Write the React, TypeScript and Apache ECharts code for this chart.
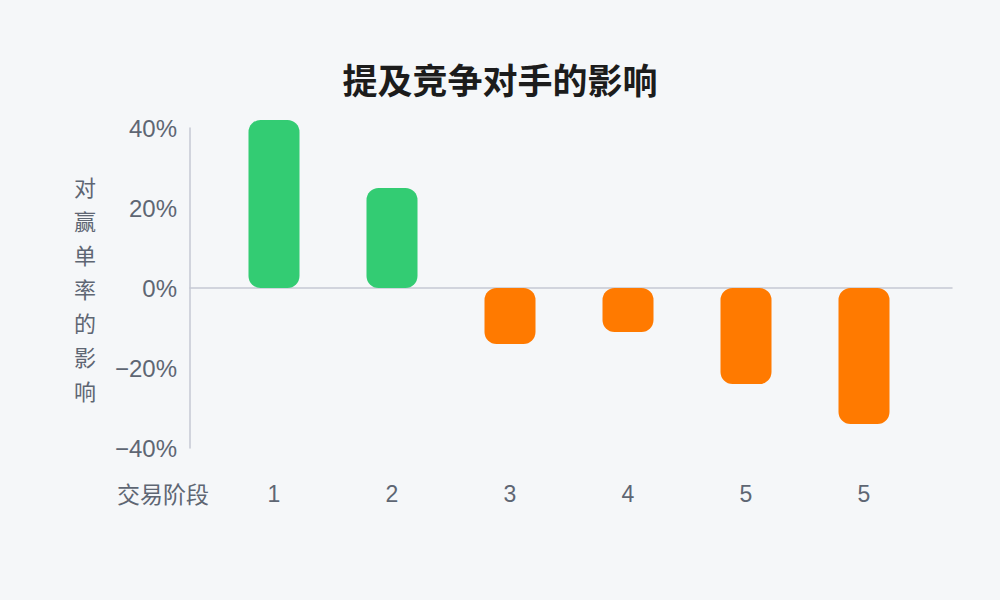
import { useEffect, useRef } from 'react';
import * as echarts from 'echarts';

const stages = ['1', '2', '3', '4', '5', '5'];
const impact = [42, 25, -14, -11, -24, -34];
const yTicks = { min: -40, max: 40, step: 20 };

const labelFont = "'Liberation Sans', 'Noto Sans CJK SC', sans-serif";
const cjkFont = "'Noto Sans CJK SC', sans-serif";
const grey = '#5E6673';

export default function App() {
    const chartRef = useRef<HTMLDivElement>(null);

    useEffect(() => {
        if (!chartRef.current) return;
        const chart = echarts.init(chartRef.current, null, { renderer: 'svg' });

        const option = {
            animation: false,
            backgroundColor: '#F5F7F9',
            title: [
                {
                    text: '提及竞争对手的影响',
                    left: 'center',
                    top: 61,
                    padding: 0,
                    textStyle: { fontFamily: cjkFont, fontSize: 35, fontWeight: 'bold', color: '#1C1C1C' },
                },
                {
                    text: '交易阶段',
                    left: 117,
                    top: 481,
                    padding: 0,
                    textStyle: { fontFamily: cjkFont, fontSize: 23, fontWeight: 'normal', color: grey },
                },
            ],
            grid: [
                { left: 215, right: 77, top: 128, bottom: 152 },
                { left: 190, right: 48, top: 128, bottom: 152 },
            ],
            xAxis: [
                {
                    type: 'category',
                    gridIndex: 0,
                    data: stages,
                    axisLine: { show: false, onZero: false },
                    axisTick: { show: false },
                    axisLabel: { margin: 34, fontSize: 23, color: grey, fontFamily: labelFont },
                },
                {
                    type: 'value',
                    gridIndex: 1,
                    min: 0,
                    max: 1,
                    axisLine: { show: true, onZero: true, lineStyle: { color: '#C5C9D3', width: 1.5 } },
                    axisTick: { show: false },
                    axisLabel: { show: false },
                    splitLine: { show: false },
                },
            ],
            yAxis: [
                {
                    type: 'value',
                    gridIndex: 0,
                    min: yTicks.min,
                    max: yTicks.max,
                    interval: yTicks.step,
                    show: false,
                },
                {
                    type: 'value',
                    gridIndex: 1,
                    min: yTicks.min,
                    max: yTicks.max,
                    interval: yTicks.step,
                    name: '对\n赢\n单\n率\n的\n影\n响',
                    nameLocation: 'middle',
                    nameRotate: 0,
                    nameGap: 94,
                    nameTextStyle: {
                        fontFamily: cjkFont,
                        fontSize: 22,
                        lineHeight: 34,
                        color: grey,
                        padding: [0, 0, 16, 0],
                    },
                    axisLine: { show: true, lineStyle: { color: '#C5C9D3', width: 1.5 } },
                    axisTick: { show: false },
                    splitLine: { show: false },
                    axisLabel: {
                        margin: 13,
                        fontSize: 24,
                        color: grey,
                        fontFamily: labelFont,
                        formatter: (v: number) => (v < 0 ? `\u2212${-v}%` : `${v}%`),
                    },
                },
            ],
            series: [
                {
                    type: 'bar',
                    xAxisIndex: 0,
                    yAxisIndex: 0,
                    barWidth: 51,
                    clip: false,
                    data: impact.map((v) => ({
                        value: v,
                        itemStyle: { color: v >= 0 ? '#33CC73' : '#FF7A00', borderRadius: 12 },
                    })),
                },
            ],
        };

        chart.setOption(option);
        return () => {
            chart.dispose();
        };
    }, []);

    return (
        <div
            ref={chartRef}
            style={{ position: 'fixed', left: 0, top: 0, width: '1000px', height: '600px' }}
        />
    );
}
